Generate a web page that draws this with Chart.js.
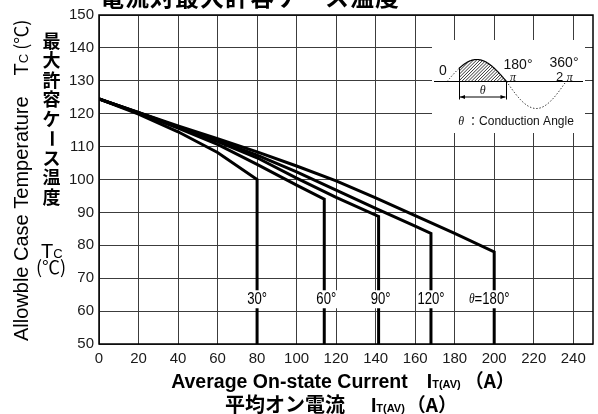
<!DOCTYPE html>
<html>
<head>
<meta charset="utf-8">
<script src="https://cdn.jsdelivr.net/npm/chart.js@4.4.1/dist/chart.umd.min.js"></script>
<style>
  html, body { margin: 0; padding: 0; background: #fff; }
  #c { display: block; }
</style>
</head>
<body>
<canvas id="c" width="598" height="414"></canvas>
<script>
// Allowable case temperature vs. average on-state current, per conduction angle.
const SANS = '"Liberation Sans", Arial, Helvetica, sans-serif';
const SERIF = '"Liberation Serif", "Times New Roman", serif';
const CJK = '"Noto Sans CJK JP", "Noto Sans CJK SC", sans-serif';

// Conduction-angle labels
const angleLabels = ['30°', '60°', '90°', '120°', 'θ=180°'];

// Average on-state current IT(AV) [A] for each curve (last point = vertical limit)
const current30  = [0, 20, 40, 60, 80, 80];
const current60  = [0, 20, 40, 60, 80, 100, 114, 114];
const current90  = [0, 20, 40, 60, 80, 100, 120, 141.5, 141.5];
const current120 = [0, 20, 40, 60, 80, 100, 120, 140, 160, 168, 168];
const current180 = [0, 20, 40, 60, 80, 100, 120, 140, 160, 180, 200, 200];

// Allowable case temperature Tc [°C]
const temp30  = [124.5, 119.9, 114.5, 108.2, 100.0, 50];
const temp60  = [124.5, 120.2, 115.6, 110.7, 104.6, 98.3, 94.0, 50];
const temp90  = [124.5, 120.3, 116.0, 111.5, 106.6, 100.4, 94.6, 88.8, 50];
const temp120 = [124.5, 120.3, 116.0, 111.9, 107.4, 102.3, 96.8, 91.2, 85.8, 83.6, 50];
const temp180 = [124.5, 120.4, 116.3, 112.4, 108.4, 104.1, 99.6, 94.4, 89.0, 83.6, 78.0, 50];

// Axis ticks
const xTicks = [0, 20, 40, 60, 80, 100, 120, 140, 160, 180, 200, 220, 240];
const yTicks = [50, 60, 70, 80, 90, 100, 110, 120, 130, 140, 150];

// Temperature level at which the angle labels sit
const angleLabelTemp = 63.6;

const seriesX = [current30, current60, current90, current120, current180];
const seriesT = [temp30, temp60, temp90, temp120, temp180];

const datasets = seriesX.map((xs, i) => ({
  label: angleLabels[i],
  data: xs.map((v, k) => ({ x: v, y: seriesT[i][k] })),
  borderColor: '#000',
  borderWidth: 3,
  borderJoinStyle: 'miter',
  borderCapStyle: 'butt',
  pointRadius: 0,
  tension: 0,
  fill: false
}));

function condensedText(ctx, text, cx, cy, font, sx) {
  ctx.save();
  ctx.font = font;
  ctx.translate(cx, cy);
  ctx.scale(sx, 1);
  ctx.textAlign = 'center';
  ctx.textBaseline = 'middle';
  ctx.fillText(text, 0, 0);
  ctx.restore();
}

// Sequence of text runs drawn left to right along a baseline
function runs(ctx, parts, x, y) {
  let cx = x;
  parts.forEach(p => {
    if (p.gap) { cx += p.gap; return; }
    ctx.font = p.font;
    ctx.fillText(p.t, cx, y + (p.dy || 0));
    cx += ctx.measureText(p.t).width;
  });
  return cx;
}
function runsWidth(ctx, parts) {
  let w = 0;
  parts.forEach(p => {
    if (p.gap) { w += p.gap; return; }
    ctx.font = p.font;
    w += ctx.measureText(p.t).width;
  });
  return w;
}

const decor = {
  id: 'decor',
  beforeDatasetsDraw(chart) {
    // Waveform inset in the upper right
    const { ctx, scales: { y } } = chart;
    const bx0 = 432, bx1 = 585, by0 = 40, by1 = 133;
    ctx.save();
    ctx.fillStyle = '#fff';
    ctx.fillRect(bx0, by0, bx1 - bx0, by1 - by0);

    const Y0 = Math.round(y.getPixelForValue(130)) + 0.5;
    const X0 = 447, P = 59.5, A1 = 22, A2 = 27, XS = 459;
    const XPI = X0 + P, X2PI = X0 + 2 * P;
    const wave = xx => {
      const s = Math.sin((xx - X0) / P * Math.PI);
      return Y0 - (s >= 0 ? A1 : A2) * s;
    };

    ctx.strokeStyle = '#000';
    ctx.lineWidth = 1;
    ctx.beginPath();
    ctx.moveTo(bx0 + 2, Y0);
    ctx.lineTo(bx1 - 2, Y0);
    ctx.stroke();

    // hatched conduction interval
    ctx.save();
    ctx.beginPath();
    ctx.moveTo(XS, Y0);
    for (let xx = XS; xx <= XPI; xx += 0.5) ctx.lineTo(xx, wave(xx));
    ctx.lineTo(XPI, Y0);
    ctx.closePath();
    ctx.clip();
    ctx.lineWidth = 0.8;
    ctx.beginPath();
    for (let k = -40; k < 80; k += 3.2) {
      ctx.moveTo(XS + k, Y0 + 1);
      ctx.lineTo(XS + k + 28, Y0 - 27);
    }
    ctx.stroke();
    ctx.restore();

    // solid wave over the conduction interval
    ctx.lineWidth = 1.2;
    ctx.beginPath();
    ctx.moveTo(XS, wave(XS));
    for (let xx = XS; xx <= XPI; xx += 0.5) ctx.lineTo(xx, wave(xx));
    ctx.stroke();

    // dotted remainder of the wave
    ctx.lineWidth = 1;
    ctx.setLineDash([1.2, 2]);
    ctx.beginPath();
    ctx.moveTo(X0, Y0);
    for (let xx = X0; xx <= XS; xx += 0.5) ctx.lineTo(xx, wave(xx));
    ctx.moveTo(XPI, Y0);
    for (let xx = XPI; xx <= X2PI; xx += 0.5) ctx.lineTo(xx, wave(xx));
    ctx.stroke();
    ctx.setLineDash([]);

    // conduction-angle dimension
    ctx.lineWidth = 1;
    ctx.beginPath();
    ctx.moveTo(XS + 0.5, wave(XS)); ctx.lineTo(XS + 0.5, Y0 + 18);
    ctx.moveTo(XPI, Y0); ctx.lineTo(XPI, Y0 + 18);
    ctx.moveTo(XS + 1, Y0 + 15.5); ctx.lineTo(XPI - 1, Y0 + 15.5);
    ctx.stroke();
    ctx.beginPath();
    ctx.moveTo(XS + 1, Y0 + 15.5); ctx.lineTo(XS + 6, Y0 + 13.5); ctx.lineTo(XS + 6, Y0 + 17.5); ctx.closePath();
    ctx.moveTo(XPI - 1, Y0 + 15.5); ctx.lineTo(XPI - 6, Y0 + 13.5); ctx.lineTo(XPI - 6, Y0 + 17.5); ctx.closePath();
    ctx.fillStyle = '#000';
    ctx.fill();

    ctx.fillStyle = '#111';
    ctx.textBaseline = 'middle';
    ctx.textAlign = 'center';
    ctx.font = 'italic 12px ' + SERIF;
    ctx.fillText('θ', (XS + XPI) / 2, Y0 + 9);
    ctx.font = '14px ' + SANS;
    ctx.fillText('0', 443, Y0 - 10);
    ctx.fillText('180°', 518, Y0 - 16);
    ctx.fillText('360°', 564, Y0 - 18);
    ctx.font = 'italic 12px ' + SERIF;
    ctx.fillText('π', 513, Y0 - 4);
    ctx.font = '13px ' + SANS;
    ctx.textAlign = 'left';
    let cx = 556;
    ctx.fillText('2', cx, Y0 - 4);
    cx += ctx.measureText('2 ').width;
    ctx.font = 'italic 12px ' + SERIF;
    ctx.fillText('π', cx, Y0 - 4);

    // caption
    const cap = [
      { t: 'θ', font: 'italic 12px ' + SERIF },
      { gap: 3 },
      { t: '：', font: '12px ' + CJK },
      { t: 'Conduction Angle', font: '12px ' + SANS }
    ];
    const cw = runsWidth(ctx, cap);
    runs(ctx, cap, 516 - cw / 2, Y0 + 40);
    ctx.restore();
  },
  afterDatasetsDraw(chart) {
    // Angle labels on the vertical current limits
    const { ctx, scales: { x, y } } = chart;
    const py = y.getPixelForValue(angleLabelTemp);
    const sx = 0.82;
    const lblFont = '16px ' + SANS;
    ctx.save();
    ctx.fillStyle = '#000';
    seriesX.forEach((xs, i) => {
      const px = x.getPixelForValue(xs[xs.length - 1]);
      const txt = angleLabels[i];
      ctx.font = lblFont;
      if (txt.startsWith('θ')) {
        ctx.font = 'italic 14px ' + SERIF;
        const w1 = ctx.measureText('θ').width * sx;
        ctx.font = lblFont;
        const w2 = ctx.measureText('=180°').width * sx;
        const w = w1 + w2;
        const left = px - 5 - w / 2;
        ctx.fillStyle = '#fff';
        ctx.fillRect(left - 1, py - 9, w + 2, 18);
        ctx.fillStyle = '#000';
        ctx.save();
        ctx.translate(left, py);
        ctx.scale(sx, 1);
        ctx.textBaseline = 'middle';
        ctx.textAlign = 'left';
        ctx.font = 'italic 14px ' + SERIF;
        ctx.fillText('θ', 0, 0);
        ctx.font = lblFont;
        ctx.fillText('=180°', w1 / sx, 0);
        ctx.restore();
      } else {
        const w = ctx.measureText(txt).width * sx;
        const off = (i === 1 || i === 2) ? 2 : 0;
        ctx.fillStyle = '#fff';
        ctx.fillRect(px + off - w / 2 - 1, py - 9, w + 2, 18);
        ctx.fillStyle = '#000';
        condensedText(ctx, txt, px + off, py, lblFont, sx);
      }
    });
    ctx.restore();
  },
  afterDraw(chart) {
    const { ctx, chartArea: a } = chart;
    ctx.save();
    // plot frame
    ctx.strokeStyle = '#000';
    ctx.lineWidth = 1.5;
    ctx.strokeRect(a.left, a.top, a.right - a.left, a.bottom - a.top);

    ctx.fillStyle = '#000';
    // heading (runs above the canvas edge)
    ctx.font = 'bold 24px ' + CJK;
    ctx.textAlign = 'left';
    ctx.textBaseline = 'ideographic';
    ctx.letterSpacing = '1px';
    ctx.fillText('電流対最大許容ケース温度', 100, 9);
    ctx.letterSpacing = '0px';

    // x-axis titles
    ctx.textBaseline = 'alphabetic';
    const line1 = [
      { t: 'Average On-state Current', font: 'bold 19.5px ' + SANS },
      { gap: 19 },
      { t: 'I', font: 'bold 19.5px ' + SANS },
      { t: 'T(AV)', font: 'bold 11px ' + SANS },
      { gap: 4 },
      { t: '（A）', font: 'bold 19px ' + CJK }
    ];
    let w = runsWidth(ctx, line1);
    runs(ctx, line1, 343 - w / 2, 388);

    const line2 = [
      { t: '平均オン電流', font: 'bold 20px ' + CJK },
      { gap: 26 },
      { t: 'I', font: 'bold 19.5px ' + SANS },
      { t: 'T(AV)', font: 'bold 11px ' + SANS },
      { gap: 2 },
      { t: '（A）', font: 'bold 19px ' + CJK }
    ];
    w = runsWidth(ctx, line2);
    runs(ctx, line2, 341 - w / 2, 412);

    // rotated English y-axis title
    ctx.save();
    ctx.translate(28, 341);
    ctx.rotate(-Math.PI / 2);
    ctx.textAlign = 'left';
    runs(ctx, [
      { t: 'Allowble Case Temperature', font: '20px ' + SANS },
      { gap: 21 },
      { t: 'T', font: '20px ' + SANS },
      { t: 'C', font: '13px ' + SANS },
      { gap: 4 },
      { t: '(℃)', font: '18px ' + CJK }
    ], 0, 0);
    ctx.restore();

    // vertical Japanese y-axis title
    ctx.textAlign = 'center';
    ctx.textBaseline = 'middle';
    ctx.font = 'bold 18px ' + CJK;
    const vchars = Array.from('最大許容ケース温度');
    vchars.forEach((ch, i) => {
      const cy = 41 + i * 19.5;
      if (ch === 'ー') {
        ctx.save();
        ctx.translate(51.5, cy);
        ctx.rotate(Math.PI / 2);
        ctx.fillText(ch, 0, 0);
        ctx.restore();
      } else {
        ctx.fillText(ch, 51.5, cy);
      }
    });
    ctx.textAlign = 'left';
    ctx.textBaseline = 'alphabetic';
    runs(ctx, [
      { t: 'T', font: '20px ' + SANS },
      { t: 'C', font: '13px ' + SANS }
    ], 41, 258);
    ctx.font = '18px ' + CJK;
    ctx.textAlign = 'center';
    ctx.textBaseline = 'middle';
    ctx.fillText('(℃)', 51, 267);
    ctx.restore();
  }
};

const gridStyle = { color: '#3c3c3c', lineWidth: 1, drawTicks: false };
const tickFont = { family: SANS, size: 15 };

new Chart(document.getElementById('c'), {
  type: 'line',
  data: { datasets },
  options: {
    responsive: false,
    animation: false,
    devicePixelRatio: 1,
    layout: { padding: { left: 0, right: 5, top: 15, bottom: 0 } },
    plugins: { legend: { display: false }, tooltip: { enabled: false } },
    scales: {
      x: {
        type: 'linear',
        min: xTicks[0],
        max: 250,
        afterBuildTicks: s => { s.ticks = xTicks.map(v => ({ value: v })); },
        ticks: { color: '#1a1a1a', font: tickFont, padding: 6, maxRotation: 0, autoSkip: false },
        grid: gridStyle,
        border: { display: false },
        afterFit: s => { s.height = 70; }
      },
      y: {
        type: 'linear',
        min: yTicks[0],
        max: yTicks[yTicks.length - 1],
        afterBuildTicks: s => { s.ticks = yTicks.map(v => ({ value: v })); },
        ticks: { color: '#1a1a1a', font: tickFont, padding: 5, autoSkip: false },
        grid: gridStyle,
        border: { display: false },
        afterFit: s => { s.width = 99; }
      }
    }
  },
  plugins: [decor]
});
</script>
</body>
</html>
